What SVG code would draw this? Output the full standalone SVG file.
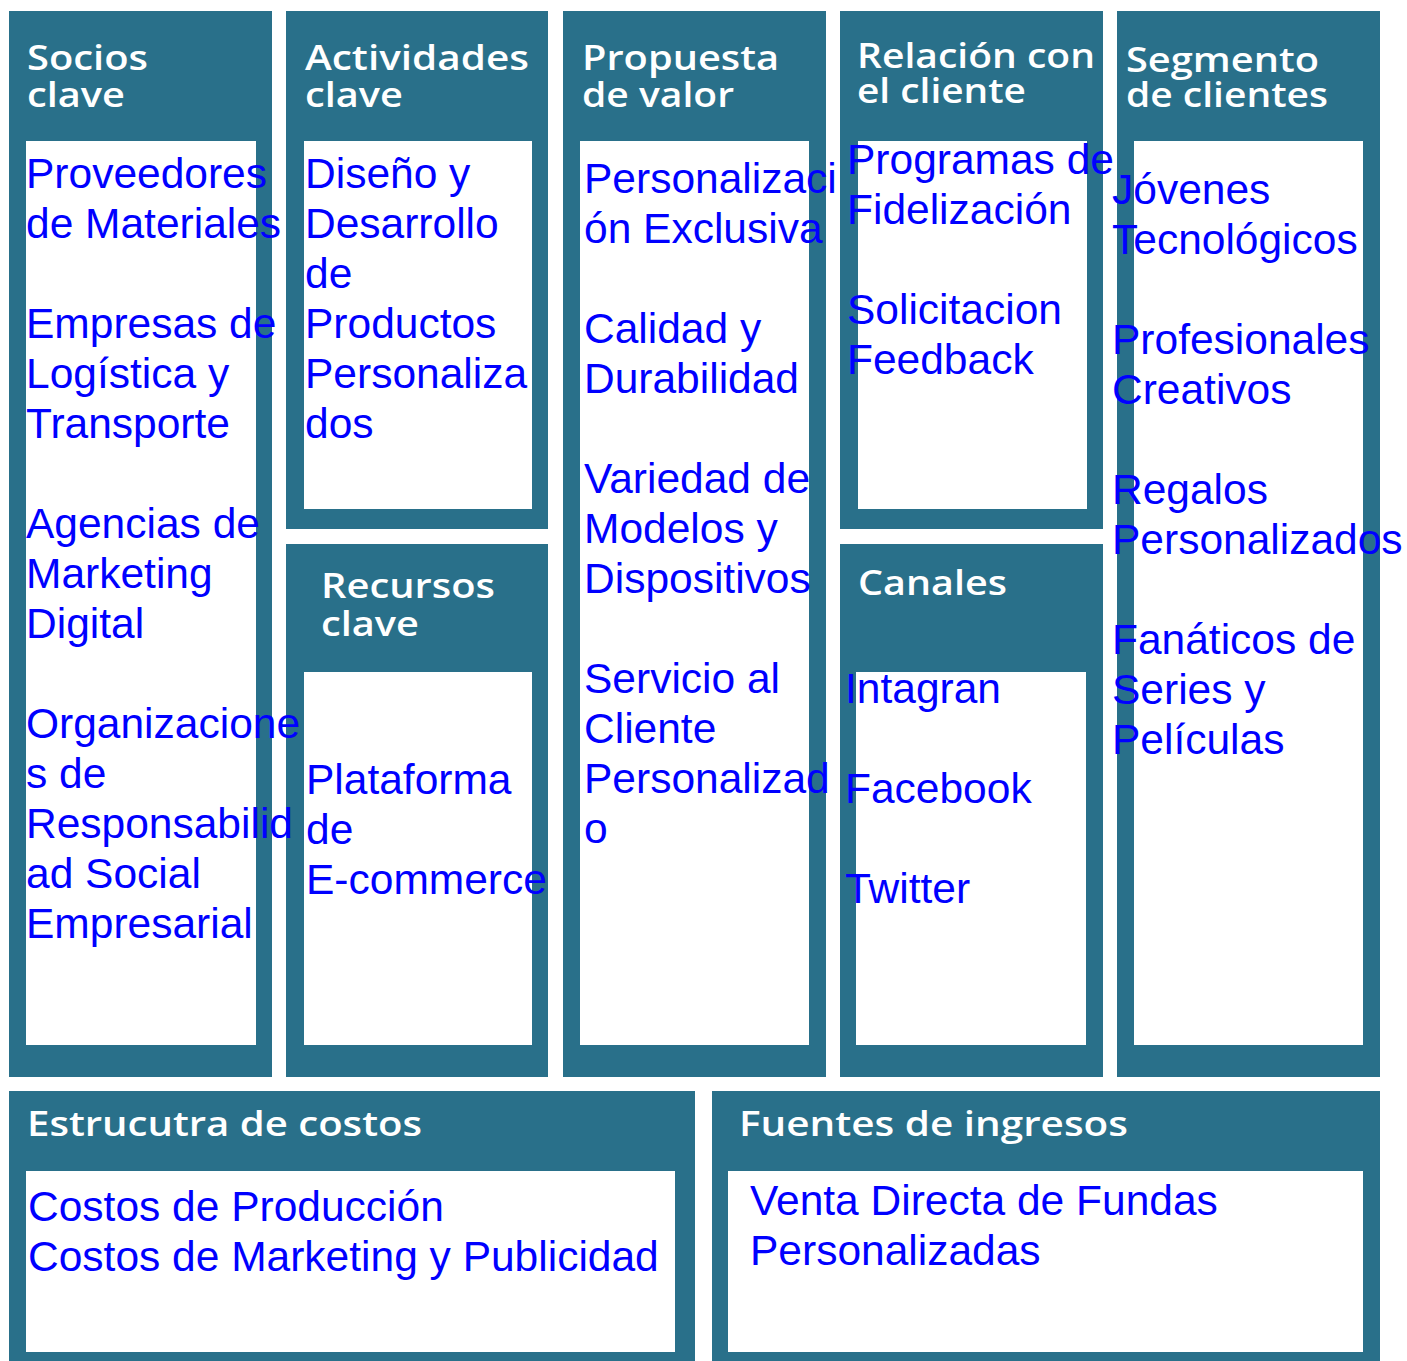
<svg xmlns="http://www.w3.org/2000/svg" width="1407" height="1361" viewBox="0 0 1407 1361">
<style>
.box{fill:#29708a}
.in{fill:#ffffff}
.h{font-family:"Open Sans","Liberation Sans",sans-serif;font-weight:600;font-size:34.7px;fill:#ffffff}
.t{font-family:"Liberation Sans",Arial,sans-serif;font-size:42.5px;fill:#0000ff}
</style>
<rect width="1407" height="1361" fill="#ffffff"/>
<g id="actividades-clave">
<rect class="box" x="286" y="11" width="262" height="518"/>
<rect class="in" x="304" y="141" width="228" height="368"/>
<text class="h"><tspan x="305" y="70" textLength="224" lengthAdjust="spacingAndGlyphs">Actividades</tspan><tspan x="305" y="107" textLength="98" lengthAdjust="spacingAndGlyphs">clave</tspan></text>
<text class="t"><tspan x="305" y="188">Diseño y</tspan><tspan x="305" y="238">Desarrollo</tspan><tspan x="305" y="288">de</tspan><tspan x="305" y="338">Productos</tspan><tspan x="305" y="388">Personaliza</tspan><tspan x="305" y="438">dos</tspan></text>
</g>
<g id="recursos-clave">
<rect class="box" x="286" y="544" width="262" height="533"/>
<rect class="in" x="304" y="672" width="228" height="373"/>
<text class="h"><tspan x="321" y="598" textLength="174" lengthAdjust="spacingAndGlyphs">Recursos</tspan><tspan x="321" y="636" textLength="98" lengthAdjust="spacingAndGlyphs">clave</tspan></text>
<text class="t"><tspan x="306" y="794">Plataforma</tspan><tspan x="306" y="844">de</tspan><tspan x="306" y="894">E-commerce</tspan></text>
</g>
<g id="socios-clave">
<rect class="box" x="9" y="11" width="263" height="1066"/>
<rect class="in" x="26" y="141" width="230" height="904"/>
<text class="h"><tspan x="27" y="70" textLength="121" lengthAdjust="spacingAndGlyphs">Socios</tspan><tspan x="27" y="107" textLength="98" lengthAdjust="spacingAndGlyphs">clave</tspan></text>
<text class="t"><tspan x="26" y="188">Proveedores</tspan><tspan x="26" y="238">de Materiales</tspan><tspan x="26" y="338">Empresas de</tspan><tspan x="26" y="388">Logística y</tspan><tspan x="26" y="438">Transporte</tspan><tspan x="26" y="538">Agencias de</tspan><tspan x="26" y="588">Marketing</tspan><tspan x="26" y="638">Digital</tspan><tspan x="26" y="738">Organizacione</tspan><tspan x="26" y="788">s de</tspan><tspan x="26" y="838">Responsabilid</tspan><tspan x="26" y="888">ad Social</tspan><tspan x="26" y="938">Empresarial</tspan></text>
</g>
<g id="propuesta-de-valor">
<rect class="box" x="563" y="11" width="263" height="1066"/>
<rect class="in" x="580" y="141" width="229" height="904"/>
<text class="h"><tspan x="582" y="70" textLength="197" lengthAdjust="spacingAndGlyphs">Propuesta</tspan><tspan x="582" y="107" textLength="152" lengthAdjust="spacingAndGlyphs">de valor</tspan></text>
<text class="t"><tspan x="584" y="193">Personalizaci</tspan><tspan x="584" y="243">ón Exclusiva</tspan><tspan x="584" y="343">Calidad y</tspan><tspan x="584" y="393">Durabilidad</tspan><tspan x="584" y="493">Variedad de</tspan><tspan x="584" y="543">Modelos y</tspan><tspan x="584" y="593">Dispositivos</tspan><tspan x="584" y="693">Servicio al</tspan><tspan x="584" y="743">Cliente</tspan><tspan x="584" y="793">Personalizad</tspan><tspan x="584" y="843">o</tspan></text>
</g>
<g id="relacion-con-el-cliente">
<rect class="box" x="840" y="11" width="263" height="518"/>
<rect class="in" x="858" y="141" width="229" height="368"/>
<text class="h"><tspan x="857" y="68" textLength="238" lengthAdjust="spacingAndGlyphs">Relación con</tspan><tspan x="857" y="103" textLength="169" lengthAdjust="spacingAndGlyphs">el cliente</tspan></text>
<text class="t"><tspan x="847" y="174">Programas de</tspan><tspan x="847" y="224">Fidelización</tspan><tspan x="847" y="324">Solicitacion</tspan><tspan x="847" y="374">Feedback</tspan></text>
</g>
<g id="canales">
<rect class="box" x="840" y="544" width="263" height="533"/>
<rect class="in" x="856" y="672" width="230" height="373"/>
<text class="h" x="858" y="595" textLength="149" lengthAdjust="spacingAndGlyphs">Canales</text>
<text class="t"><tspan x="845" y="703">Intagran</tspan><tspan x="845" y="803">Facebook</tspan><tspan x="845" y="903">Twitter</tspan></text>
</g>
<g id="segmento-de-clientes">
<rect class="box" x="1117" y="11" width="263" height="1066"/>
<rect class="in" x="1134" y="141" width="229" height="904"/>
<text class="h"><tspan x="1126" y="72" textLength="193" lengthAdjust="spacingAndGlyphs">Segmento</tspan><tspan x="1126" y="107" textLength="202" lengthAdjust="spacingAndGlyphs">de clientes</tspan></text>
<text class="t"><tspan x="1112" y="204">Jóvenes</tspan><tspan x="1112" y="254">Tecnológicos</tspan><tspan x="1112" y="354">Profesionales</tspan><tspan x="1112" y="404">Creativos</tspan><tspan x="1112" y="504">Regalos</tspan><tspan x="1112" y="554">Personalizados</tspan><tspan x="1112" y="654">Fanáticos de</tspan><tspan x="1112" y="704">Series y</tspan><tspan x="1112" y="754">Películas</tspan></text>
</g>
<g id="estructura-de-costos">
<rect class="box" x="9" y="1091" width="686" height="270"/>
<rect class="in" x="26" y="1171" width="649" height="181"/>
<text class="h" x="27" y="1136" textLength="395" lengthAdjust="spacingAndGlyphs">Estrucutra de costos</text>
<text class="t"><tspan x="28" y="1221">Costos de Producción</tspan><tspan x="28" y="1271">Costos de Marketing y Publicidad</tspan></text>
</g>
<g id="fuentes-de-ingresos">
<rect class="box" x="712" y="1091" width="668" height="270"/>
<rect class="in" x="728" y="1171" width="635" height="181"/>
<text class="h" x="739" y="1136" textLength="389" lengthAdjust="spacingAndGlyphs">Fuentes de ingresos</text>
<text class="t"><tspan x="750" y="1215">Venta Directa de Fundas</tspan><tspan x="750" y="1265">Personalizadas</tspan></text>
</g>
</svg>
